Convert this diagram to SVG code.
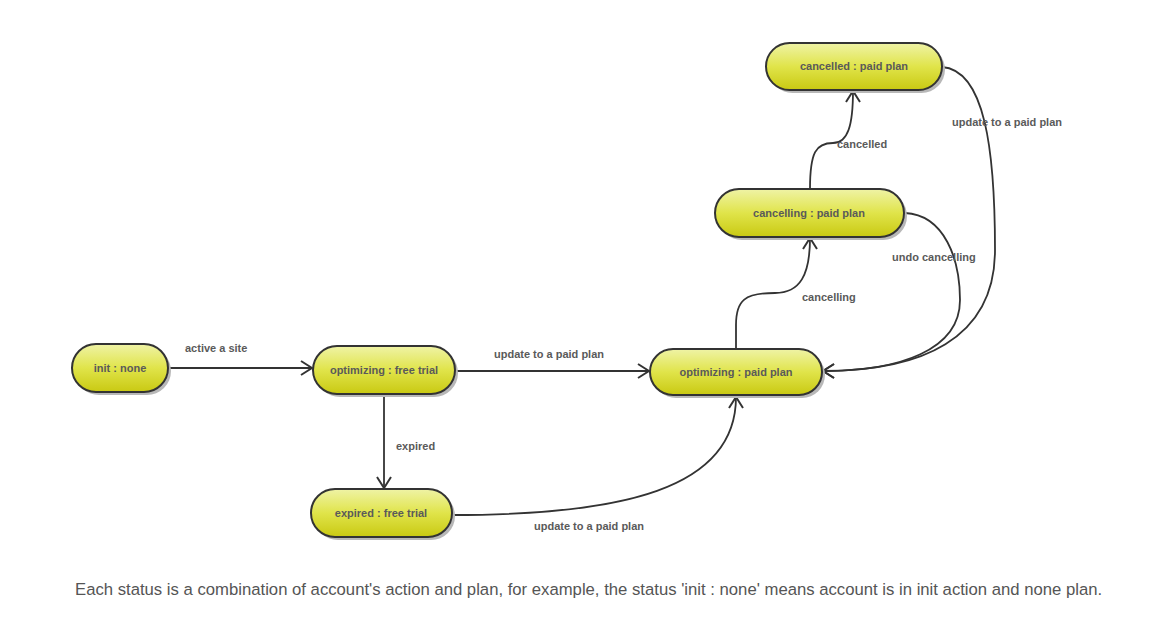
<svg xmlns="http://www.w3.org/2000/svg" width="1159" height="621" viewBox="0 0 1159 621">
<defs>
<linearGradient id="g" x1="0" y1="0" x2="0" y2="1">
<stop offset="0" stop-color="#eff3a6"/>
<stop offset="0.5" stop-color="#e0e44a"/>
<stop offset="1" stop-color="#c9c912"/>
</linearGradient>
<marker id="arr" viewBox="0 0 13 16" refX="12" refY="8" markerWidth="13" markerHeight="16" markerUnits="userSpaceOnUse" orient="auto">
<path d="M1,1 L12,8 L1,15" fill="none" stroke="#333" stroke-width="2"/>
</marker>
</defs>
<style>
.shadow{fill:#b8b8b8;}
.node{fill:url(#g);stroke:#333;stroke-width:2;}
.nl{font-family:"Liberation Sans",Arial,sans-serif;font-size:11px;font-weight:bold;fill:#5a5a5a;text-anchor:middle;}
.el{font-family:"Liberation Sans",Arial,sans-serif;font-size:11px;font-weight:bold;fill:#5a5a5a;}
.edge{fill:none;stroke:#333;stroke-width:1.8;marker-end:url(#arr);}
.cap{font-family:"Liberation Sans",Arial,sans-serif;font-size:16.7px;fill:#555;}
</style>
<rect width="1159" height="621" fill="#fff"/>
<g id="connectors">
<path class="edge" d="M168,368 L312,368"/>
<path class="edge" d="M455,371 L649,371"/>
<path class="edge" d="M384,395 L384,488"/>
<path class="edge" d="M452,515 C620,515 736,490 736,397"/>
<path class="edge" d="M736,349 L736,325 C736,300 745,293 775,293 C800,293 810,275 810,238"/>
<path class="edge" d="M810,189 C810,152 816,143 833,143 C848,143 853,125 853,91"/>
<path class="edge" d="M905,213 C945,215 960,260 960,300 C960,350 900,371 823,371"/>
<path class="edge" d="M942,67 C985,70 995,150 995,250 C995,340 920,371 823,371"/>
<text class="el" x="185" y="352">active a site</text>
<text class="el" x="494" y="358">update to a paid plan</text>
<text class="el" x="396" y="450">expired</text>
<text class="el" x="534" y="530">update to a paid plan</text>
<text class="el" x="802" y="301">cancelling</text>
<text class="el" x="837" y="148">cancelled</text>
<text class="el" x="892" y="261">undo cancelling</text>
<text class="el" x="952" y="126">update to a paid plan</text>
</g>
<g id="init">
<rect class="shadow" x="75" y="347" width="96" height="48" rx="24"/>
<rect class="node" x="72" y="344" width="96" height="48" rx="24"/>
<text class="nl" x="120" y="372">init : none</text>
</g>
<g id="optimizing-free-trial">
<rect class="shadow" x="316" y="349" width="142" height="48" rx="24"/>
<rect class="node" x="313" y="346" width="142" height="48" rx="24"/>
<text class="nl" x="384" y="374">optimizing : free trial</text>
</g>
<g id="optimizing-paid-plan">
<rect class="shadow" x="653" y="352" width="172" height="46" rx="23"/>
<rect class="node" x="650" y="349" width="172" height="46" rx="23"/>
<text class="nl" x="736" y="376">optimizing : paid plan</text>
</g>
<g id="cancelling-paid-plan">
<rect class="shadow" x="718" y="192" width="189" height="48" rx="24"/>
<rect class="node" x="715" y="189" width="189" height="48" rx="24"/>
<text class="nl" x="809" y="217">cancelling : paid plan</text>
</g>
<g id="cancelled-paid-plan">
<rect class="shadow" x="769" y="46" width="176" height="47" rx="23.5"/>
<rect class="node" x="766" y="43" width="176" height="47" rx="23.5"/>
<text class="nl" x="854" y="70">cancelled : paid plan</text>
</g>
<g id="expired-free-trial">
<rect class="shadow" x="314" y="492" width="141" height="48" rx="24"/>
<rect class="node" x="311" y="489" width="141" height="48" rx="24"/>
<text class="nl" x="381" y="517">expired : free trial</text>
</g>
<text class="cap" x="75" y="595">Each status is a combination of account's action and plan, for example, the status 'init : none' means account is in init action and none plan.</text>
</svg>
